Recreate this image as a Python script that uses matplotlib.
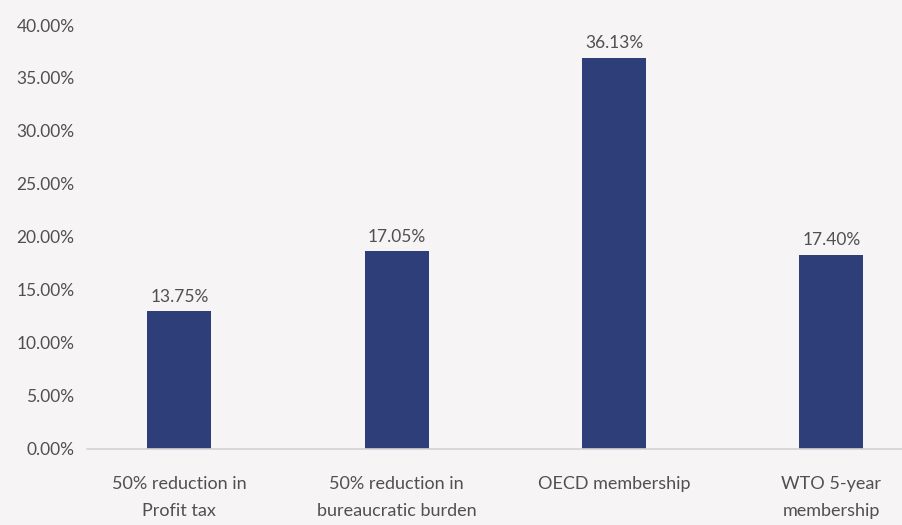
import matplotlib.pyplot as plt
from matplotlib.ticker import FuncFormatter

# Data (bar heights; labels as printed on the chart)
categories = ['50% reduction in\nProfit tax',
              '50% reduction in\nbureaucratic burden',
              'OECD membership',
              'WTO 5-year\nmembership']
heights = [12.95, 18.65, 36.9, 18.3]
value_labels = ['13.75%', '17.05%', '36.13%', '17.40%']
y_ticks = [0, 5, 10, 15, 20, 25, 30, 35, 40]

bg = '#f6f4f5'
bar_color = '#2e3e78'
text_color = '#505050'

plt.rcParams['font.family'] = ['Lato', 'DejaVu Sans']

fig = plt.figure(figsize=(9.03, 5.25), dpi=100, facecolor=bg)
ax = fig.add_axes([87 / 903, 1 - 448.5 / 525, 816 / 903, (448.5 - 25) / 525])
ax.set_facecolor(bg)

x = range(len(categories))
bars = ax.bar(x, heights, width=0.295, color=bar_color)

for b, lab in zip(bars, value_labels):
    ax.text(b.get_x() + b.get_width() / 2, b.get_height() + 0.6, lab,
            ha='center', va='bottom', fontsize=12.5, color=text_color)

ax.set_xlim(-0.425, 3.33)
ax.set_ylim(0, 40)
ax.set_yticks(y_ticks)
ax.yaxis.set_major_formatter(FuncFormatter(lambda v, p: f'{v:.2f}%'))
ax.set_xticks(list(x))
ax.set_xticklabels(categories, fontsize=13, color=text_color, linespacing=1.85)
ax.tick_params(axis='y', labelsize=12.5, labelcolor=text_color, length=0, pad=9)
ax.tick_params(axis='x', length=0, pad=20)

for s in ['top', 'right', 'left']:
    ax.spines[s].set_visible(False)
ax.spines['bottom'].set_color('#d3d3d3')
ax.spines['bottom'].set_linewidth(1.2)

fig.savefig('out.png', dpi=100, facecolor=bg)
